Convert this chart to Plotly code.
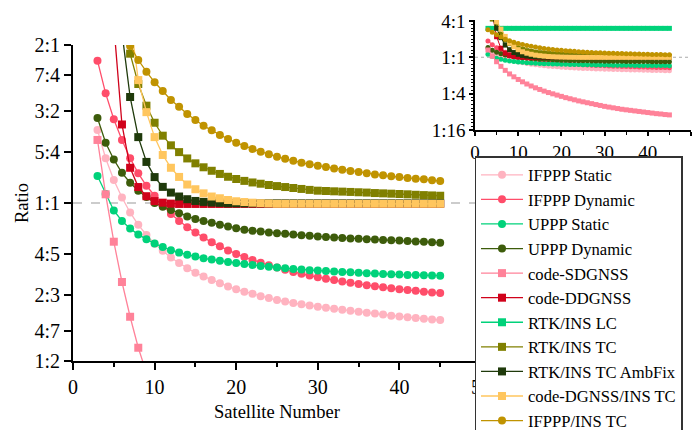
import numpy as np
import plotly.graph_objects as go

# ---------------- data ----------------
sat_num = list(range(3, 46))

# values are log2(ratio)
ifppp_static = [0.462, 0.283, 0.146, 0.035, -0.060, -0.138, -0.202, -0.258, -0.303, -0.345,
                -0.380, -0.413, -0.442, -0.465, -0.487, -0.508, -0.528, -0.546, -0.561, -0.575,
                -0.590, -0.602, -0.614, -0.624, -0.633, -0.641, -0.649, -0.656, -0.663, -0.670,
                -0.676, -0.682, -0.688, -0.694, -0.700, -0.706, -0.713, -0.719, -0.723, -0.728,
                -0.732, -0.737, -0.741]
ifppp_dynamic = [0.901, 0.694, 0.530, 0.399, 0.283, 0.188, 0.109, 0.046, -0.015, -0.070,
                 -0.114, -0.154, -0.187, -0.219, -0.249, -0.274, -0.300, -0.322, -0.342, -0.361,
                 -0.378, -0.394, -0.409, -0.423, -0.436, -0.448, -0.459, -0.470, -0.479, -0.488,
                 -0.497, -0.505, -0.513, -0.520, -0.527, -0.534, -0.540, -0.546, -0.551, -0.556,
                 -0.561, -0.566, -0.570]
uppp_static = [0.171, 0.057, -0.047, -0.114, -0.162, -0.200, -0.230, -0.257, -0.278, -0.299,
               -0.314, -0.327, -0.339, -0.350, -0.358, -0.366, -0.373, -0.380, -0.386, -0.392,
               -0.398, -0.404, -0.409, -0.413, -0.417, -0.421, -0.425, -0.428, -0.431, -0.434,
               -0.436, -0.439, -0.441, -0.444, -0.446, -0.449, -0.451, -0.453, -0.455, -0.456,
               -0.458, -0.459, -0.460]
uppp_dynamic = [0.538, 0.381, 0.275, 0.191, 0.128, 0.077, 0.038, 0.000, -0.023, -0.044,
                -0.065, -0.086, -0.102, -0.114, -0.125, -0.137, -0.148, -0.160, -0.169, -0.176,
                -0.181, -0.186, -0.191, -0.195, -0.199, -0.204, -0.208, -0.212, -0.215, -0.218,
                -0.221, -0.224, -0.226, -0.229, -0.231, -0.234, -0.236, -0.238, -0.241, -0.243,
                -0.246, -0.248, -0.251]
code_sdgnss = [0.399, 0.055, -0.245, -0.500, -0.720, -0.916, -1.075, -1.22, -1.35, -1.47,
               -1.58, -1.68, -1.77, -1.86, -1.94, -2.01, -2.08, -2.15, -2.22, -2.28,
               -2.34, -2.40, -2.45, -2.50, -2.55, -2.60, -2.65, -2.70, -2.74, -2.78,
               -2.82, -2.86, -2.89, -2.92, -2.95, -2.98, -3.01, -3.04, -3.07, -3.10,
               -3.12, -3.15, -3.17]
code_ddgnss = [3.2, 2.4, 1.13, 0.497, 0.223, 0.101, 0.043, 0.012, 0.002, -0.004,
               -0.006, -0.006, -0.006, -0.006, -0.006, -0.006, -0.006, -0.006, -0.006, -0.006,
               -0.006, -0.006, -0.006, -0.006, -0.006, -0.006, -0.006, -0.006, -0.006, -0.006,
               -0.006, -0.006, -0.006, -0.006, -0.006, -0.006, -0.006, -0.006, -0.006, -0.006,
               -0.006, -0.006, -0.006]
rtk_ins_lc = [1.59] * 43
rtk_ins_tc = [2.5, 2.1, 1.7, 1.27, 0.945, 0.753, 0.616, 0.508, 0.426, 0.365,
              0.322, 0.282, 0.251, 0.226, 0.204, 0.184, 0.166, 0.152, 0.140, 0.130,
              0.122, 0.114, 0.107, 0.101, 0.095, 0.089, 0.083, 0.078, 0.076, 0.074,
              0.072, 0.070, 0.068, 0.066, 0.063, 0.061, 0.059, 0.057, 0.055, 0.052,
              0.050, 0.048, 0.046]
rtk_ins_tc_ambfix = [2.6, 2.2, 1.6, 1.08, 0.671, 0.417, 0.260, 0.164, 0.102, 0.066,
                     0.041, 0.024, 0.013, 0.007, 0.003, 0.001, -0.002, -0.002, -0.002, -0.002,
                     -0.002, -0.002, -0.002, -0.002, -0.002, -0.002, -0.002, -0.002, -0.002, -0.002,
                     -0.002, -0.002, -0.002, -0.002, -0.002, -0.002, -0.002, -0.002, -0.002, -0.002,
                     -0.002, -0.002, -0.002]
code_dgnss_ins_tc = [2.6, 2.3, 1.95, 1.55, 1.148, 0.778, 0.575, 0.417, 0.304, 0.223,
                     0.165, 0.117, 0.087, 0.061, 0.041, 0.030, 0.019, 0.011, 0.006, 0.002,
                     -0.001, -0.003, -0.005, -0.005, -0.005, -0.005, -0.005, -0.005, -0.005, -0.005,
                     -0.005, -0.005, -0.005, -0.005, -0.005, -0.005, -0.005, -0.005, -0.005, -0.005,
                     -0.005, -0.005, -0.005]
ifppp_ins_tc = [1.52, 1.38, 1.24, 1.11, 0.994, 0.905, 0.831, 0.764, 0.709, 0.652,
                0.609, 0.563, 0.525, 0.489, 0.460, 0.431, 0.405, 0.382, 0.361, 0.342,
                0.325, 0.308, 0.293, 0.280, 0.267, 0.255, 0.245, 0.236, 0.228, 0.219,
                0.211, 0.203, 0.196, 0.188, 0.181, 0.175, 0.169, 0.165, 0.158, 0.154,
                0.150, 0.144, 0.139]

series_names = ["IFPPP Static", "IFPPP Dynamic", "UPPP Static", "UPPP Dynamic",
                "code-SDGNSS", "code-DDGNSS", "RTK/INS LC", "RTK/INS TC",
                "RTK/INS TC AmbFix", "code-DGNSS/INS TC", "IFPPP/INS TC"]
series_values = [ifppp_static, ifppp_dynamic, uppp_static, uppp_dynamic,
                 code_sdgnss, code_ddgnss, rtk_ins_lc, rtk_ins_tc,
                 rtk_ins_tc_ambfix, code_dgnss_ins_tc, ifppp_ins_tc]
series_colors = ["#FFB3C0", "#FF4D6A", "#00D27A", "#3D5C0B",
                 "#FF8299", "#D0021B", "#00D27A", "#808000",
                 "#1F3A0B", "#FFC65E", "#C09300"]
series_symbols = ["circle", "circle", "circle", "circle",
                  "square", "square", "square", "square",
                  "square", "square", "circle"]

main_tick_ratios = [(2, 1), (7, 4), (3, 2), (5, 4), (1, 1), (4, 5), (2, 3), (4, 7), (1, 2)]
main_tick_text = ["%d:%d" % r for r in main_tick_ratios]
main_tick_vals = [float(np.log2(a / b)) for a, b in main_tick_ratios]
inset_tick_vals = [-4, -2, 0, 2]
inset_tick_text = ["1:16", "1:4", "1:1", "4:1"]

# ---------------- figure ----------------
FONT = "Liberation Serif, Times New Roman, serif"
W, H = 697, 430
ml, mr, mt, mb = 73, 6, 20, 69
pw, ph = W - ml - mr, H - mt - mb


def px_x(p):
    return (p - ml) / pw


def px_y(p):
    return (H - mb - p) / ph


fig = go.Figure()

for name, vals, col, sym in zip(series_names, series_values, series_colors, series_symbols):
    fig.add_trace(go.Scatter(
        x=sat_num, y=vals, name=name, mode="lines+markers",
        line=dict(color=col, width=1.3),
        marker=dict(symbol=sym, size=8, color=col),
        xaxis="x", yaxis="y", showlegend=True))

for name, vals, col, sym in zip(series_names, series_values, series_colors, series_symbols):
    fig.add_trace(go.Scatter(
        x=sat_num, y=vals, name=name, mode="lines+markers",
        line=dict(color=col, width=1),
        marker=dict(symbol=sym, size=5, color=col),
        xaxis="x2", yaxis="y2", showlegend=False))

axis_common = dict(showline=True, linecolor="black", ticks="outside",
                   tickcolor="black", showgrid=False, zeroline=False)

fig.update_layout(
    width=W, height=H,
    margin=dict(l=ml, r=mr, t=mt, b=mb, autoexpand=False),
    paper_bgcolor="white", plot_bgcolor="white",
    font=dict(family=FONT, color="black"),
    xaxis=dict(domain=[0, px_x(481)], range=[0, 50], anchor="y",
               tickvals=[0, 10, 20, 30, 40, 50], linewidth=2, tickwidth=2, ticklen=7,
               tickfont=dict(family=FONT, size=20, color="black"),
               minor=dict(tickvals=[5, 15, 25, 35, 45], ticklen=4, tickwidth=2,
                          tickcolor="black", ticks="outside"),
               **axis_common),
    yaxis=dict(domain=[0, px_y(45)], range=[-1, 1], anchor="x",
               tickvals=main_tick_vals, ticktext=main_tick_text,
               tickfont=dict(family=FONT, size=20, color="black"),
               linewidth=2, tickwidth=2, ticklen=7, **axis_common),
    xaxis2=dict(domain=[px_x(475), 1], range=[0, 50], anchor="y2",
                tickvals=[0, 10, 20, 30, 40, 50], linewidth=1.5, tickwidth=1.5, ticklen=4,
                tickfont=dict(family=FONT, size=19, color="black"),
                minor=dict(tickvals=[5, 15, 25, 35, 45], ticklen=3, tickwidth=1.2,
                           tickcolor="black", ticks="outside"),
                **axis_common),
    yaxis2=dict(domain=[px_y(130), 1], range=[-4, 2.05], anchor="x2",
                tickvals=inset_tick_vals, ticktext=inset_tick_text,
                tickfont=dict(family=FONT, size=19, color="black"),
                linewidth=1.5, tickwidth=1.5, ticklen=4,
                minor=dict(dtick=0.2, ticklen=2.5, tickwidth=1,
                           tickcolor="black", ticks="outside"),
                **axis_common),
    legend=dict(x=px_x(474.5), y=px_y(156), xanchor="left", yanchor="top",
                bgcolor="white", bordercolor="#333333", borderwidth=1.5,
                font=dict(family=FONT, size=16.6, color="black"),
                itemwidth=42, tracegroupgap=0),
    showlegend=True,
)

# reference 1:1 lines
fig.add_shape(type="line", xref="x", yref="y", x0=0, x1=50, y0=0, y1=0,
              line=dict(color="#999999", width=1.2, dash="dash"), layer="below")
fig.add_shape(type="line", xref="x2", yref="y2", x0=0, x1=50, y0=0, y1=0,
              line=dict(color="#AAAAAA", width=1.2, dash="dot"), layer="below")

# axis titles
fig.add_annotation(text="Ratio", xref="paper", yref="paper", x=px_x(22), y=px_y(203),
                   xanchor="center", yanchor="middle",
                   showarrow=False, textangle=-90,
                   font=dict(family=FONT, size=18.5, color="black"))
fig.add_annotation(text="Satellite Number", xref="paper", yref="paper",
                   x=px_x(277), y=px_y(412), xanchor="center", yanchor="middle",
                   showarrow=False,
                   font=dict(family=FONT, size=18.5, color="black"))

fig.write_html("out.html")
